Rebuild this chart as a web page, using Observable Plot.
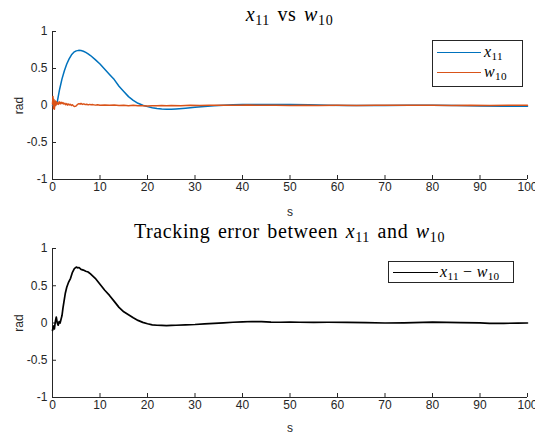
<!DOCTYPE html>
<html>
<head>
<meta charset="utf-8">
<script src="https://cdn.jsdelivr.net/npm/d3@7"></script>
<script src="https://cdn.jsdelivr.net/npm/@observablehq/plot@0.6"></script>
<style>
  html, body { margin: 0; padding: 0; background: #fff; }
  #wrap { position: relative; width: 535px; height: 434px; background: #fff; overflow: hidden; }
  .title { height: 28px; line-height: 28px; box-sizing: border-box; padding-left: 52px; padding-right: 8px;
           text-align: center; font-family: "Liberation Serif", serif; font-size: 20px; letter-spacing: 0.6px; word-spacing: 2px; color: #000; white-space: nowrap; }
  .title sub, .leg sub { font-size: 70%; vertical-align: -0.3em; line-height: 0; }
  .legend { position: absolute; border: 1px solid #262626; background: #fff; box-sizing: border-box; }
  .leg { position: absolute; font-family: "Liberation Serif", serif; font-size: 16px; letter-spacing: 0.3px; white-space: nowrap; line-height: 16px; }
  .sw { position: absolute; height: 0; }
  svg { display: block; }
</style>
</head>
<body>
<div id="wrap"></div>
<script>
const xTicks = [0, 10, 20, 30, 40, 50, 60, 70, 80, 90, 100];
const yTicks = [-1, -0.5, 0, 0.5, 1];

// x11 (blue)
const tX11 = [0, 0.5, 1, 1.5, 2, 2.5, 3, 3.5, 4, 4.5, 5, 5.5, 6, 6.5, 7, 7.5, 8, 9, 10, 11, 12, 13, 14, 15, 16, 17, 18, 19, 20, 21, 22, 23, 24, 25, 26, 28, 30, 32, 34, 36, 38, 40, 43, 46, 50, 54, 58, 62, 66, 70, 75, 80, 85, 90, 95, 100];
const vX11 = [0, 0.0, 0.05, 0.22, 0.36, 0.47, 0.56, 0.63, 0.685, 0.72, 0.738, 0.745, 0.742, 0.733, 0.718, 0.698, 0.675, 0.62, 0.56, 0.49, 0.42, 0.35, 0.26, 0.19, 0.12, 0.07, 0.03, 0.003, -0.015, -0.03, -0.042, -0.048, -0.05, -0.05, -0.046, -0.036, -0.025, -0.014, -0.005, 0.003, 0.009, 0.013, 0.015, 0.015, 0.013, 0.009, 0.004, 0.0, -0.001, 0.001, 0.003, 0.004, 0.0, -0.007, -0.01, -0.01];

// w10 (orange, noisy)
const tW10 = [0, 0.1, 0.2, 0.3, 0.4, 0.5, 0.6, 0.7, 0.8, 0.9, 1.0, 1.2, 1.4, 1.6, 1.8, 2.0, 2.2, 2.4, 2.6, 2.8, 3.0, 3.2, 3.4, 3.6, 3.8, 4.0, 4.2, 4.4, 4.6, 4.8, 5.0, 5.2, 5.4, 5.6, 5.8, 6.0, 6.3, 6.6, 6.9, 7.2, 7.5, 7.8, 8.1, 8.5, 9, 9.5, 10, 11, 12, 13, 14, 15, 16, 17, 18, 19, 20, 21, 22, 23, 24, 25, 27, 29, 31, 33, 35, 37, 39, 41, 44, 47, 50, 53, 56, 60, 64, 68, 72, 76, 80, 84, 88, 92, 96, 100];
const vW10 = [0.02, 0.12, -0.04, 0.08, -0.05, 0.03, 0.06, 0.0, 0.05, 0.02, 0.04, 0.015, 0.05, 0.02, 0.045, 0.025, 0.04, 0.02, 0.03, 0.01, 0.025, 0.005, 0.02, 0.008, 0.015, 0.0, 0.01, -0.005, -0.012, -0.01, -0.005, 0.01, 0.02, 0.025, 0.018, 0.028, 0.015, 0.022, 0.012, 0.018, 0.008, 0.015, 0.01, 0.012, 0.005, 0.01, 0.003, 0.008, 0.002, 0.006, 0.0, 0.003, -0.003, 0.002, -0.004, -0.002, -0.006, -0.002, -0.005, -0.001, -0.004, 0.0, -0.002, 0.002, 0.0, 0.004, 0.002, 0.005, 0.003, 0.006, 0.002, 0.005, 0.001, 0.004, 0.0, 0.003, 0.001, 0.004, 0.002, 0.005, 0.003, 0.001, 0.004, 0.0, 0.003, 0.002];

// tracking error x11 - w10 (black)
const tErr = [0, 0.2, 0.4, 0.6, 0.8, 1.0, 1.2, 1.4, 1.6, 1.8, 2.0, 2.2, 2.4, 2.7, 3.0, 3.4, 3.8, 4.2, 4.6, 5.0, 5.3, 5.6, 6.0, 6.5, 7.0, 7.5, 8.0, 8.5, 9, 10, 11, 12, 13, 14, 15, 16, 17, 18, 19, 20, 21, 22, 23, 24, 25, 26, 28, 30, 32, 34, 36, 38, 40, 42, 44, 46, 48, 50, 52, 55, 58, 62, 66, 70, 74, 78, 80, 83, 86, 90, 92, 95, 98, 100];
const vErr = [-0.1, -0.04, -0.08, 0.02, 0.08, 0.0, -0.03, 0.02, 0.0, 0.05, 0.1, 0.2, 0.28, 0.4, 0.48, 0.55, 0.6, 0.68, 0.73, 0.75, 0.74, 0.745, 0.72, 0.71, 0.695, 0.685, 0.66, 0.63, 0.6, 0.52, 0.44, 0.37, 0.29, 0.21, 0.15, 0.11, 0.07, 0.035, 0.008, -0.01, -0.025, -0.03, -0.032, -0.035, -0.033, -0.03, -0.025, -0.02, -0.012, -0.005, 0.003, 0.01, 0.015, 0.02, 0.018, 0.012, 0.01, 0.013, 0.01, 0.008, 0.01, 0.008, 0.004, 0.0, 0.003, 0.008, 0.012, 0.008, 0.005, 0.003, -0.005, -0.004, -0.002, 0.0];

const x11 = tX11.map((t, i) => ({t, v: vX11[i]}));
const w10 = tW10.map((t, i) => ({t, v: vW10[i]}));
const err = tErr.map((t, i) => ({t, v: vErr[i]}));

const axisColor = "#262626";
const fmt = d => String(d);

function panel(lines, marginBottom, labelOffset) {
  return Plot.plot({
    width: 535,
    height: 189,
    marginTop: 3,
    marginBottom,
    marginLeft: 52,
    marginRight: 8,
    x: {domain: [0, 100]},
    y: {domain: [-1, 1]},
    style: {fontFamily: "'Liberation Sans', Arial, sans-serif", fontSize: "11px", color: axisColor, background: "#fff", overflow: "visible"},
    marks: [
      Plot.ruleX([0], {stroke: axisColor, strokeWidth: 1}),
      Plot.ruleY([-1], {stroke: axisColor, strokeWidth: 1}),
      Plot.axisX({ticks: xTicks, tickSize: -4, tickPadding: 7, tickFormat: fmt, label: "s", labelAnchor: "center", labelArrow: "none", labelOffset, fontSize: 12, stroke: axisColor}),
      Plot.axisY({ticks: yTicks, tickSize: -4, tickPadding: 9, tickFormat: fmt, label: "rad", labelAnchor: "center", labelArrow: "none", labelOffset: 38, fontSize: 12, stroke: axisColor}),
      ...lines
    ]
  });
}

const wrap = document.getElementById("wrap");

const t1 = document.createElement("div");
t1.className = "title";
t1.innerHTML = "<i>x</i><sub>11</sub> vs <i>w</i><sub>10</sub>";
wrap.appendChild(t1);
wrap.appendChild(panel([
  Plot.line(x11, {x: "t", y: "v", stroke: "#0072BD", strokeWidth: 1.5}),
  Plot.line(w10, {x: "t", y: "v", stroke: "#D95319", strokeWidth: 1.5})
], 38, 36));

const t2 = document.createElement("div");
t2.className = "title";
t2.innerHTML = "Tracking error between <i>x</i><sub>11</sub> and <i>w</i><sub>10</sub>";
wrap.appendChild(t2);
wrap.appendChild(panel([
  Plot.line(err, {x: "t", y: "v", stroke: "#000", strokeWidth: 1.7})
], 37, 34));

// legends
function addLegend(box, items) {
  const lg = document.createElement("div");
  lg.className = "legend";
  Object.assign(lg.style, {left: box.x + "px", top: box.y + "px", width: box.w + "px", height: box.h + "px"});
  wrap.appendChild(lg);
  items.forEach(it => {
    const sw = document.createElement("div");
    sw.className = "sw";
    Object.assign(sw.style, {left: it.x0 + "px", top: (it.y - 0.8) + "px", width: (it.x1 - it.x0) + "px", borderTop: `1.6px solid ${it.color}`});
    wrap.appendChild(sw);
    const tx = document.createElement("div");
    tx.className = "leg";
    tx.innerHTML = it.html;
    Object.assign(tx.style, {left: it.tx + "px", top: (it.y - 9) + "px"});
    wrap.appendChild(tx);
  });
}
addLegend({x: 432, y: 40, w: 91, h: 47}, [
  {x0: 437, x1: 481, y: 52.5, color: "#0072BD", tx: 484, html: "<i>x</i><sub>11</sub>"},
  {x0: 437, x1: 481, y: 73, color: "#D95319", tx: 484, html: "<i>w</i><sub>10</sub>"}
]);
addLegend({x: 388, y: 261, w: 126, h: 22}, [
  {x0: 393, x1: 438, y: 272.5, color: "#000", tx: 440, html: "<i>x</i><sub>11</sub> &minus; <i>w</i><sub>10</sub>"}
]);
</script>
</body>
</html>
